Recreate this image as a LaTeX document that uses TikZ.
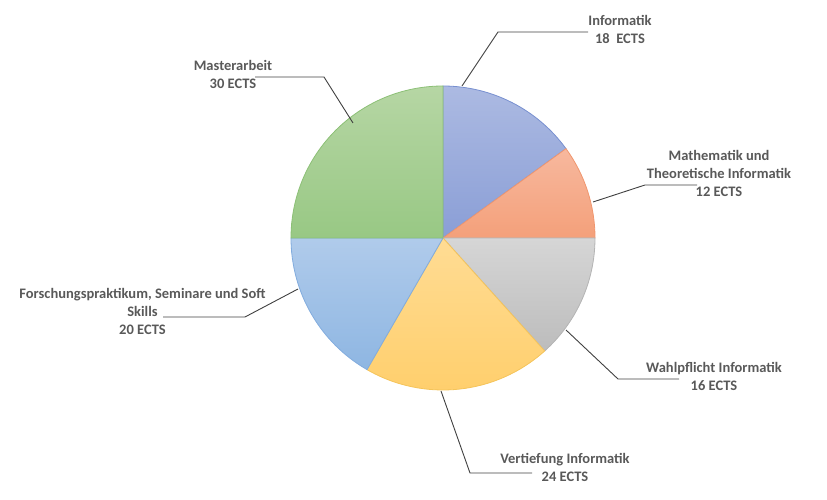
\documentclass[tikz,border=0pt]{standalone}
\usepackage{fontspec}
\setmainfont{Carlito}
\usepackage{tikz}

\definecolor{labelgray}{RGB}{89,89,89}
\definecolor{linegray}{RGB}{64,64,64}

\begin{document}
\begin{tikzpicture}[x=1pt,y=1pt,
  lbl/.style={align=center,inner sep=0pt,text=labelgray,font=\fontsize{14.5}{18}\selectfont\bfseries},
  leader/.style={draw=linegray,line width=0.9pt},
  slice/.style={line width=0.8pt}]
\useasboundingbox (0,0) rectangle (827,500);

\coordinate (O) at (443,262);

% slices, clockwise from the top
\draw[slice,top color={rgb,255:red,172;green,186;blue,226},bottom color={rgb,255:red,138;green,158;blue,214},draw={rgb,255:red,120;green,144;blue,208}] (O) -- ++(90:152) arc (90:36:152) -- cycle;
\draw[slice,top color={rgb,255:red,247;green,184;blue,158},bottom color={rgb,255:red,244;green,160;blue,122},draw={rgb,255:red,240;green,150;blue,110}] (O) -- ++(36:152) arc (36:0:152) -- cycle;
\draw[slice,top color={rgb,255:red,214;green,214;blue,214},bottom color={rgb,255:red,188;green,188;blue,188},draw={rgb,255:red,180;green,180;blue,180}] (O) -- ++(0:152) arc (0:-48:152) -- cycle;
\draw[slice,top color={rgb,255:red,255;green,220;blue,148},bottom color={rgb,255:red,255;green,206;blue,106},draw={rgb,255:red,245;green,196;blue,90}] (O) -- ++(-48:152) arc (-48:-120:152) -- cycle;
\draw[slice,top color={rgb,255:red,176;green,203;blue,235},bottom color={rgb,255:red,142;green,182;blue,226},draw={rgb,255:red,130;green,172;blue,222}] (O) -- ++(-120:152) arc (-120:-180:152) -- cycle;
\draw[slice,top color={rgb,255:red,182;green,214;blue,164},bottom color={rgb,255:red,152;green,200;blue,132},draw={rgb,255:red,140;green,192;blue,118}] (O) -- ++(180:152) arc (180:90:152) -- cycle;

% labels
\node[lbl] (inf) at (620,471) {Informatik\\18\ \ ECTS};
\node[lbl] (math) at (719,327) {Mathematik und\\Theoretische Informatik\\12 ECTS};
\node[lbl] (wahl) at (714,124) {Wahlpflicht Informatik\\16 ECTS};
\node[lbl] (vert) at (565,33) {Vertiefung Informatik\\24 ECTS};
\node[lbl] (forsch) at (142.5,189) {Forschungspraktikum, Seminare und Soft\\Skills\\20 ECTS};
\node[lbl] (master) at (233,425.5) {Masterarbeit\\30 ECTS};

% leader lines
\coordinate (pinf) at (462,414);   \coordinate (binf) at (498,468);   \coordinate (einf) at (588,468);
\coordinate (pmath) at (593,298);  \coordinate (bmath) at (645,315);  \coordinate (emath) at (697,315);
\coordinate (pwahl) at (566,170);  \coordinate (bwahl) at (618,121);  \coordinate (ewahl) at (679,121);
\coordinate (pvert) at (441,109);  \coordinate (bvert) at (470,27);   \coordinate (evert) at (532,27);
\coordinate (pforsch) at (298,211); \coordinate (bforsch) at (245,183); \coordinate (eforsch) at (163,183);
\coordinate (pmaster) at (353,377); \coordinate (bmaster) at (324,423); \coordinate (emaster) at (255,423);

\draw[leader] (pinf) -- (binf) -- (einf);
\draw[leader] (pmath) -- (bmath) -- (emath);
\draw[leader] (pwahl) -- (bwahl) -- (ewahl);
\draw[leader] (pvert) -- (bvert) -- (evert);
\draw[leader] (pforsch) -- (bforsch) -- (eforsch);
\draw[leader] (pmaster) -- (bmaster) -- (emaster);
\end{tikzpicture}
\end{document}
